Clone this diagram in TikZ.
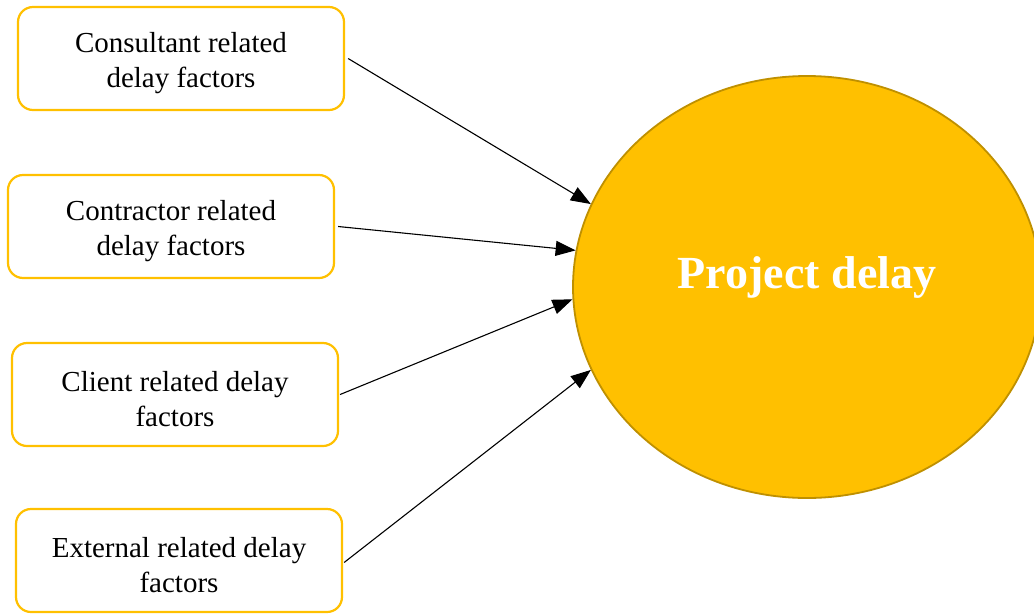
\documentclass[tikz,border=0pt]{standalone}
\usepackage{fontspec}
\setmainfont{Liberation Serif}
\usetikzlibrary{arrows.meta,shapes.geometric}
\definecolor{gold}{HTML}{FFC000}
\definecolor{golddark}{HTML}{BF9000}
\newcommand{\toplift}{\rule{0pt}{30pt}}
\tikzset{
  factor/.style={draw=gold, line width=2.2pt, rounded corners=15pt, fill=white,
    minimum width=326pt, minimum height=103pt, align=center,
    font=\fontsize{29}{35}\selectfont, inner sep=0pt},
  hub/.style={ellipse, draw=golddark, line width=1.8pt, fill=gold,
    minimum width=468pt, minimum height=422pt, inner sep=0pt},
  hubtext/.style={text=white, font=\bfseries\fontsize{46}{52}\selectfont},
  link/.style={line width=1.1pt, -{Triangle[length=20pt,width=15pt]}}
}
\begin{document}
\begin{tikzpicture}[x=1pt,y=-1pt]
\useasboundingbox (0,0) rectangle (1034,614);
\node[hub] (pd) at (807,287) {};
\node[hubtext] (pdt) at (807,277) {Project delay};
\node[factor] (b1) at (181,58.5) {\toplift Consultant related\\delay factors};
\node[factor] (b2) at (171,226.5) {\toplift Contractor related\\delay factors};
\node[factor] (b3) at (175,394.5) {\toplift Client related delay\\factors};
\node[factor] (b4) at (179,560.5) {\toplift External related delay\\factors};
\draw[link] ([xshift=3pt]b1.east) -- (pd.159);
\draw[link] ([xshift=3pt]b2.east) -- (pd.171);
\draw[link] ([xshift=1pt]b3.east) -- (pd.183.5);
\draw[link] ([xshift=1pt,yshift=-2pt]b4.east) -- (pd.201);
\end{tikzpicture}
\end{document}
